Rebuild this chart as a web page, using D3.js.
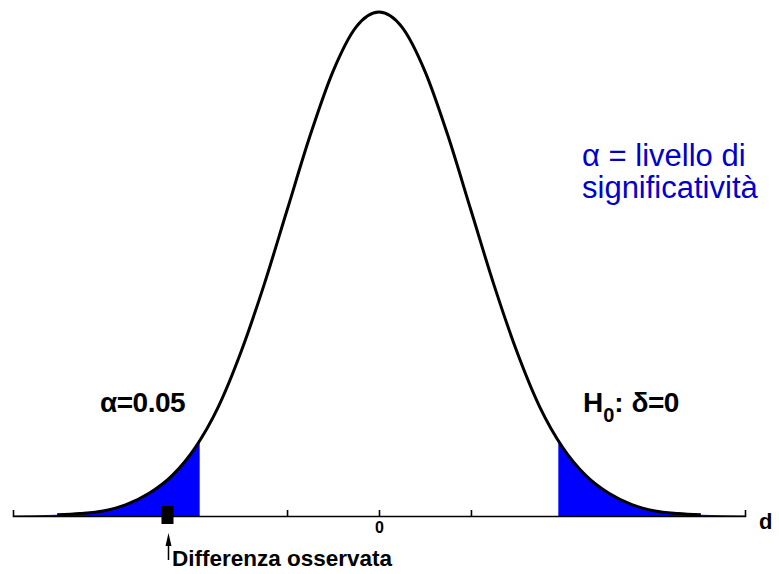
<!DOCTYPE html>
<html>
<head>
<meta charset="utf-8">
<script src="https://cdn.jsdelivr.net/npm/d3@7"></script>
<style>
  body { margin: 0; background: #fff; }
  svg { display: block; font-family: 'Liberation Sans', Arial, sans-serif; }
</style>
</head>
<body>
<svg id="chart"></svg>
<script>
// Data (d in units of sigma, density)
const dValues = [-3.5, -3.25, -3, -2.75, -2.5, -2.25, -2, -1.75, -1.5, -1.25, -1, -0.75, -0.5, -0.25, 0,
  0.25, 0.5, 0.75, 1, 1.25, 1.5, 1.75, 2, 2.25, 2.5, 2.75, 3, 3.25, 3.5]
const density = [0.001, 0.002, 0.004, 0.009, 0.018, 0.032, 0.054, 0.086, 0.130, 0.183, 0.242, 0.301, 0.352, 0.387, 0.399,
  0.387, 0.352, 0.301, 0.242, 0.183, 0.130, 0.086, 0.054, 0.032, 0.018, 0.009, 0.004, 0.002, 0.001]
const axisEnds = [-3.98, 3.98]
const tickValues = [-1, 0, 1]
const tickLabels = ['', '0', '']
const critical = [-1.95, 1.95]
const observed = -2.3

const width = 779
const height = 574

const svg = d3.select('#chart')
  .attr('width', width)
  .attr('height', height)

// Scales
const x = d3.scaleLinear().domain(axisEnds).range([13, 745])
const y = d3.scaleLinear().domain([0, 0.399]).range([516, 12])

const curveData = dValues.map((d, i) => [d, density[i]])
const areaData = [[axisEnds[0], 0.0003], ...curveData, [axisEnds[1], 0.0003]]

// Clip the fill to the two rejection tails
const clip = svg.append('defs').append('clipPath').attr('id', 'tails')
clip.append('rect')
  .attr('x', x(axisEnds[0])).attr('y', 0)
  .attr('width', x(critical[0]) - x(axisEnds[0])).attr('height', height)
clip.append('rect')
  .attr('x', x(critical[1])).attr('y', 0)
  .attr('width', x(axisEnds[1]) - x(critical[1])).attr('height', height)

const area = d3.area()
  .x(d => x(d[0]))
  .y0(y(0))
  .y1(d => y(d[1]))
  .curve(d3.curveMonotoneX)

svg.append('path')
  .datum(areaData)
  .attr('clip-path', 'url(#tails)')
  .attr('d', area)
  .attr('fill', '#0000ff')

// Axis with upward ticks
const xAxis = d3.axisBottom(x)
  .tickValues(tickValues)
  .tickFormat((d, i) => tickLabels[i])
  .tickSizeInner(-6)
  .tickSizeOuter(-6)
  .tickPadding(6)

const gx = svg.append('g')
  .attr('transform', `translate(0, ${y(0)})`)
  .attr('font-size', 16)
  .attr('font-weight', 'bold')
  .call(xAxis)
gx.attr('font-size', 16).attr('font-family', null)
gx.select('.domain').attr('stroke', '#000').attr('stroke-width', 1.6)
gx.selectAll('.tick line').attr('stroke', '#000').attr('stroke-width', 1.6)
gx.selectAll('.tick text').attr('fill', '#000')

// Density curve
const line = d3.line()
  .x(d => x(d[0]))
  .y(d => y(d[1]))
  .curve(d3.curveMonotoneX)

svg.append('path')
  .datum(curveData)
  .attr('d', line)
  .attr('fill', 'none')
  .attr('stroke', '#000')
  .attr('stroke-width', 3)

// Observed difference marker
const ox = x(observed)
svg.append('rect')
  .attr('x', ox - 6)
  .attr('y', y(0) - 10)
  .attr('width', 12)
  .attr('height', 18)
  .attr('fill', '#000')

svg.append('line')
  .attr('x1', ox + 1).attr('x2', ox + 1)
  .attr('y1', 560).attr('y2', 542)
  .attr('stroke', '#000')
  .attr('stroke-width', 1.5)

svg.append('path')
  .attr('d', `M${ox + 1},533L${ox + 4},546L${ox - 2},546Z`)
  .attr('fill', '#000')

svg.append('text')
  .attr('x', 172).attr('y', 566)
  .style('font-size', '22.5px').style('font-weight', 'bold')
  .text('Differenza osservata')

// Axis name
svg.append('text')
  .attr('x', 759).attr('y', 529)
  .style('font-size', '22px').style('font-weight', 'bold')
  .text('d')

// Annotations
svg.append('text')
  .attr('x', 100).attr('y', 412)
  .style('font-size', '28px').style('font-weight', 'bold')
  .attr('letter-spacing', -0.5)
  .text('α=0.05')

const h0 = svg.append('text')
  .attr('x', 583).attr('y', 412)
  .style('font-size', '28px').style('font-weight', 'bold')
h0.append('tspan').text('H')
h0.append('tspan').attr('dy', 10).style('font-size', '20px').text('0')
h0.append('tspan').attr('dy', -10).text(': ')
h0.append('tspan').attr('letter-spacing', -0.5).text('δ=0')

const blue = svg.append('text')
  .style('font-size', '31px')
  .attr('fill', '#0000cc')
blue.append('tspan').attr('x', 582).attr('y', 166).text('α = livello di')
blue.append('tspan').attr('x', 582).attr('y', 198).text('significatività')
</script>
</body>
</html>
